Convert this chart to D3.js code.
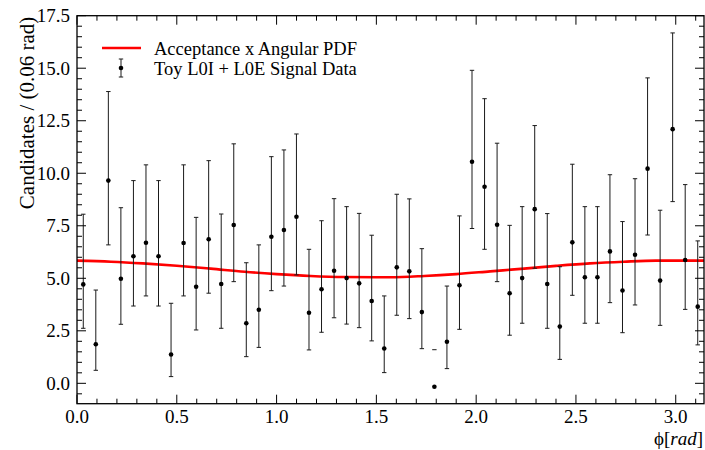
<!DOCTYPE html>
<html>
<head>
<meta charset="utf-8">
<script src="https://cdn.jsdelivr.net/npm/d3@7"></script>
<style>
  html, body { margin: 0; padding: 0; background: #fff; }
  svg { display: block; }
</style>
</head>
<body>
<svg id="chart" width="705" height="450"></svg>
<script>
// Binned toy data: 50 bins over [0, pi]
const nBins = 50;
const phiMax = Math.PI;
const counts = [
  4.71, 1.86, 9.65, 4.98, 6.05, 6.69, 6.05, 1.37, 6.68, 4.60,
  6.86, 4.73, 7.54, 2.86, 3.50, 6.98, 7.30, 7.93, 3.36, 4.48,
  5.36, 5.01, 4.76, 3.92, 1.66, 5.52, 5.33, 3.39, -0.16, 1.98,
  4.67, 10.55, 9.36, 7.55, 4.29, 5.01, 8.29, 4.73, 2.70, 6.71,
  5.05, 5.05, 6.28, 4.42, 6.12, 10.22, 4.89, 12.10, 5.87, 3.65
];
// lower / upper ends of the error bars (null = no lower bar)
const errLow = [
  2.62, 0.62, 6.59, 2.81, 3.68, 4.16, 3.68, 0.32, 4.16, 2.54,
  4.29, 2.62, 4.84, 1.27, 1.71, 4.41, 4.63, 5.16, 1.59, 2.43,
  3.12, 2.82, 2.65, 2.02, 0.51, 3.24, 3.08, 1.65, null, 0.70,
  2.57, 7.37, 6.38, 4.84, 2.29, 2.86, 5.48, 2.62, 1.14, 4.19,
  2.86, 2.86, 3.84, 2.41, 3.73, 7.06, 2.76, 8.65, 3.52, 1.83
];
const errHigh = [
  8.05, 4.44, 13.89, 8.36, 9.65, 10.40, 9.65, 3.81, 10.40, 7.90,
  10.60, 8.06, 11.40, 5.74, 6.59, 10.79, 11.11, 11.87, 6.38, 7.74,
  8.79, 8.41, 8.09, 7.05, 4.16, 9.00, 8.78, 6.41, 1.60, 4.63,
  7.97, 14.90, 13.55, 11.43, 7.52, 8.41, 12.27, 8.08, 5.55, 10.43,
  8.41, 8.41, 9.93, 7.70, 9.74, 14.54, 8.24, 16.68, 9.46, 6.78
];
// Projected PDF curve (acceptance x angular PDF)
const pdfPhi = [0, 0.17, 0.33, 0.50, 0.67, 0.84, 1.00, 1.17, 1.34, 1.50,
                1.57, 1.74, 1.90, 2.07, 2.24, 2.40, 2.57, 2.74, 2.90, 3.1416];
const pdfVal = [5.84, 5.79, 5.71, 5.60, 5.46, 5.31, 5.20, 5.11, 5.06, 5.05,
                5.05, 5.11, 5.20, 5.33, 5.46, 5.59, 5.71, 5.79, 5.84, 5.84];

const yTicks = [0, 2.5, 5, 7.5, 10, 12.5, 15, 17.5];
const xTicks = [0, 0.5, 1, 1.5, 2, 2.5, 3];

const legendLabels = ["Acceptance x Angular PDF", "Toy L0I + L0E Signal Data"];
const yTitle = "Candidates / (0.06 rad)";

const FONT = "'Liberation Serif', Tinos, 'Times New Roman', Times, 'Nimbus Roman', 'DejaVu Serif', serif";

const margin = { left: 77, right: 704, top: 15.7, bottom: 403.7 };
const svg = d3.select("#chart").attr("font-family", FONT);

const x = d3.scaleLinear().domain([0, phiMax]).range([margin.left, margin.right]);
const y = d3.scaleLinear().domain([-0.97, 17.5]).range([margin.bottom, margin.top]);

const binW = phiMax / nBins;
const data = counts.map((v, i) => ({
  phi: (i + 0.5) * binW, v, lo: errLow[i], hi: errHigh[i]
}));

// clip region for the plot contents
svg.append("defs").append("clipPath").attr("id", "plotClip")
  .append("rect")
  .attr("x", margin.left).attr("y", margin.top)
  .attr("width", margin.right - margin.left)
  .attr("height", margin.bottom - margin.top);

const plot = svg.append("g").attr("clip-path", "url(#plotClip)");

// PDF curve
plot.append("path")
  .datum(pdfPhi.map((p, i) => [p, pdfVal[i]]))
  .attr("fill", "none")
  .attr("stroke", "#ff0000")
  .attr("stroke-width", 2.6)
  .attr("d", d3.line().x(d => x(d[0])).y(d => y(d[1])).curve(d3.curveMonotoneX));

// error bars
const capW = 2.2;
const eb = plot.append("g").attr("stroke", "#1a1a1a").attr("stroke-width", 1);
data.forEach(d => {
  const cx = x(d.phi);
  if (d.lo !== null) {
    eb.append("line").attr("x1", cx).attr("x2", cx).attr("y1", y(d.lo)).attr("y2", y(d.hi));
    eb.append("line").attr("x1", cx - capW).attr("x2", cx + capW).attr("y1", y(d.lo)).attr("y2", y(d.lo));
  }
  eb.append("line").attr("x1", cx - capW).attr("x2", cx + capW).attr("y1", y(d.hi)).attr("y2", y(d.hi));
});

// markers
plot.append("g").selectAll("circle").data(data).join("circle")
  .attr("cx", d => x(d.phi)).attr("cy", d => y(d.v)).attr("r", 2.3)
  .attr("fill", "#000");

// axes with inward ticks on all four sides
const fmt = d3.format(".1f");
const axes = svg.append("g").attr("stroke", "#000").attr("stroke-width", 1);

const yMinor = d3.range(-0.5, 17.51, 0.5).filter(v => yTicks.indexOf(v) < 0);
const xMinor = d3.range(0.1, phiMax, 0.1).map(v => Math.round(v * 10) / 10)
  .filter(v => xTicks.indexOf(v) < 0);

const majLen = 9, minLen = 5;
yTicks.concat(yMinor).forEach(v => {
  const len = yTicks.indexOf(v) >= 0 ? majLen : minLen;
  const yy = y(v);
  axes.append("line").attr("x1", margin.left).attr("x2", margin.left + len).attr("y1", yy).attr("y2", yy);
  axes.append("line").attr("x1", margin.right).attr("x2", margin.right - len).attr("y1", yy).attr("y2", yy);
});
xTicks.concat(xMinor).forEach(v => {
  const len = xTicks.indexOf(v) >= 0 ? majLen : minLen;
  const xx = x(v);
  axes.append("line").attr("x1", xx).attr("x2", xx).attr("y1", margin.bottom).attr("y2", margin.bottom - len);
  axes.append("line").attr("x1", xx).attr("x2", xx).attr("y1", margin.top).attr("y2", margin.top + len);
});

// frame
svg.append("rect")
  .attr("x", margin.left).attr("y", margin.top)
  .attr("width", margin.right - margin.left)
  .attr("height", margin.bottom - margin.top)
  .attr("fill", "none").attr("stroke", "#000").attr("stroke-width", 1.3);

// tick labels
svg.append("g").selectAll("text").data(yTicks).join("text")
  .attr("x", margin.left - 7).attr("y", d => y(d)).attr("dy", "0.34em")
  .attr("text-anchor", "end").attr("font-size", 19).text(d => fmt(d));

svg.append("g").selectAll("text").data(xTicks).join("text")
  .attr("x", d => x(d)).attr("y", 423)
  .attr("text-anchor", "middle").attr("font-size", 19).text(d => fmt(d));

// axis titles
svg.append("text")
  .attr("transform", `translate(34, ${margin.top + 1}) rotate(-90)`)
  .attr("text-anchor", "end").attr("font-size", 21).text(yTitle);

const xt = svg.append("text")
  .attr("x", margin.right - 1).attr("y", 445)
  .attr("text-anchor", "end").attr("font-size", 19);
xt.append("tspan").text("ϕ[");
xt.append("tspan").attr("font-style", "italic").text("rad");
xt.append("tspan").text("]");

// legend
const lg = svg.append("g");
lg.append("line").attr("x1", 102).attr("x2", 141).attr("y1", 48).attr("y2", 48)
  .attr("stroke", "#ff0000").attr("stroke-width", 2.6);
lg.append("line").attr("x1", 121).attr("x2", 121).attr("y1", 59).attr("y2", 77)
  .attr("stroke", "#1a1a1a");
[59, 77].forEach(v => lg.append("line").attr("x1", 121 - capW).attr("x2", 121 + capW)
  .attr("y1", v).attr("y2", v).attr("stroke", "#1a1a1a"));
lg.append("circle").attr("cx", 121).attr("cy", 68).attr("r", 2.3).attr("fill", "#000");
legendLabels.forEach((t, i) => {
  lg.append("text").attr("x", 154).attr("y", 55 + i * 19.5)
    .attr("font-size", 18.5).text(t);
});
</script>
</body>
</html>
